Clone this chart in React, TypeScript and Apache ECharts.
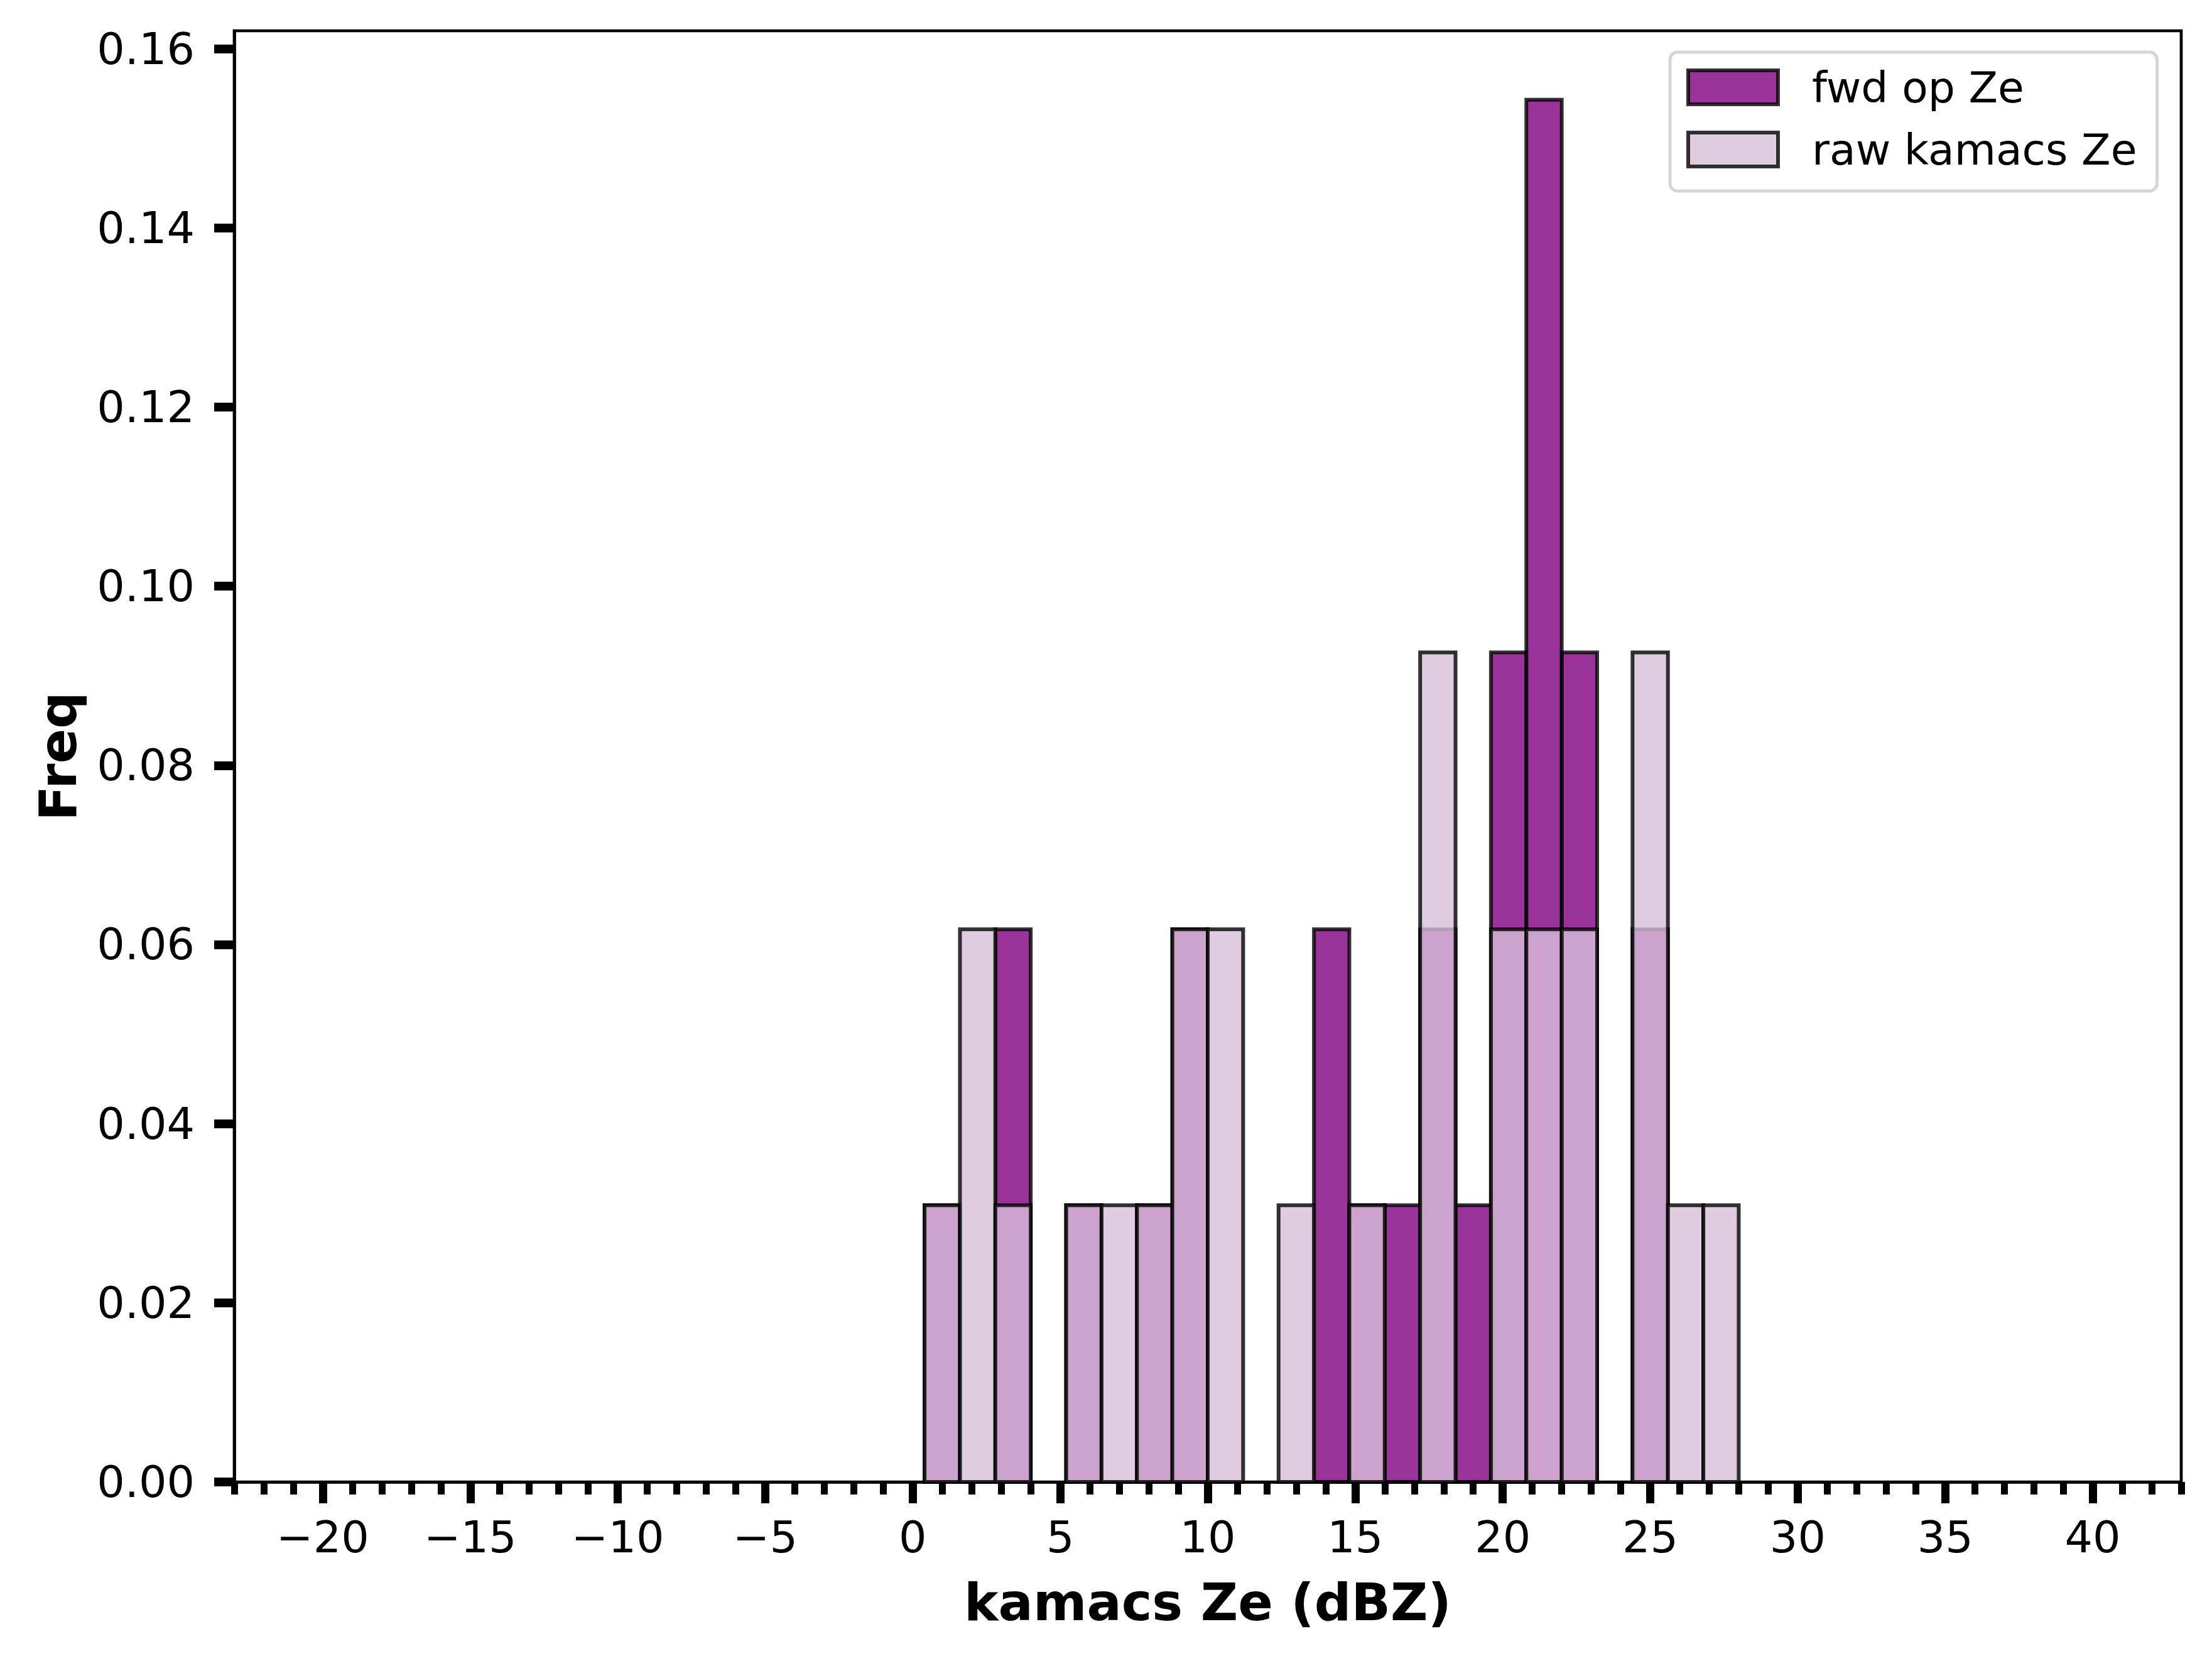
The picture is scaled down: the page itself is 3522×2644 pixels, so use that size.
import React, { useEffect, useRef } from "react";
import * as echarts from "echarts";

// Histogram bins (left edges), width 1.2 dBZ
const BIN_LEFT = [0.4, 1.6, 2.8, 4.0, 5.2, 6.4, 7.6, 8.8, 10.0, 11.2, 12.4, 13.6, 14.8, 16.0, 17.2, 18.4, 19.6, 20.8, 22.0, 23.2, 24.4, 25.6, 26.8];
const BIN_WIDTH = 1.2;
const FWD_FREQ = [0.0309, 0, 0.0617, 0, 0.0309, 0, 0.0309, 0.0617, 0, 0, 0, 0.0617, 0.0309, 0.0309, 0.0617, 0.0309, 0.0926, 0.1543, 0.0926, 0, 0.0617, 0, 0];
const RAW_FREQ = [0.0309, 0.0617, 0.0309, 0, 0.0309, 0.0309, 0.0309, 0.0617, 0.0617, 0, 0.0309, 0, 0.0309, 0, 0.0926, 0, 0.0617, 0.0617, 0.0617, 0, 0.0926, 0.0309, 0.0309];

const SERIES_NAMES = ["fwd op Ze", "raw kamacs Ze"];
const X_MAJOR_TICKS = [-20, -15, -10, -5, 0, 5, 10, 15, 20, 25, 30, 35, 40];
const Y_TICKS = [0, 0.02, 0.04, 0.06, 0.08, 0.1, 0.12, 0.14, 0.16];
const X_MIN = -23;
const X_MAX = 43;
const Y_MAX = 0.162;

const FONT = "DejaVu Sans";
const FWD_COLOR = "rgba(128,0,128,0.8)";
const RAW_COLOR = "rgba(216,191,216,0.8)";
const EDGE_COLOR = "rgba(0,0,0,0.8)";
const EDGE_WIDTH = 6;

function makeRender(fill: string) {
  return (params: any, api: any) => {
    const x0 = api.value(0);
    const x1 = api.value(1);
    const y = api.value(2);
    if (!y) return { type: "group", children: [] };
    const p0 = api.coord([x0, y]);
    const p1 = api.coord([x1, 0]);
    return {
      type: "rect",
      shape: { x: p0[0], y: p0[1], width: p1[0] - p0[0], height: p1[1] - p0[1] },
      style: { fill, stroke: EDGE_COLOR, lineWidth: EDGE_WIDTH },
    };
  };
}

const fmtX = (v: number) => (v < 0 ? "\u2212" + Math.abs(v) : String(v));

export default function App() {
  const ref = useRef<HTMLDivElement>(null);
  useEffect(() => {
    if (!ref.current) return;
    const chart = echarts.init(ref.current, null, { renderer: "svg" });
    const fwdData = BIN_LEFT.map((l, i) => [l, +(l + BIN_WIDTH).toFixed(1), FWD_FREQ[i]]);
    const rawData = BIN_LEFT.map((l, i) => [l, +(l + BIN_WIDTH).toFixed(1), RAW_FREQ[i]]);
    chart.setOption({
      animation: false,
      backgroundColor: "#ffffff",
      grid: {
        left: 373,
        right: 49,
        top: 49,
        bottom: 285,
        show: true,
        borderColor: "#000",
        borderWidth: 4.7,
        backgroundColor: "transparent",
      },
      legend: {
        orient: "vertical",
        left: 2659,
        top: 83,
        padding: [22, 32, 32, 26],
        itemWidth: 143,
        itemHeight: 54,
        itemGap: 31,
        selectedMode: false,
        backgroundColor: "#ffffff",
        borderColor: "#d6d6d6",
        borderWidth: 5,
        borderRadius: 12,
        textStyle: { fontFamily: FONT, fontSize: 68, color: "#000", lineHeight: 54, padding: [0, 0, 0, 49] },
        data: [
          { name: SERIES_NAMES[0], icon: "rect", itemStyle: { color: FWD_COLOR, borderColor: EDGE_COLOR, borderWidth: EDGE_WIDTH } },
          { name: SERIES_NAMES[1], icon: "rect", itemStyle: { color: RAW_COLOR, borderColor: EDGE_COLOR, borderWidth: EDGE_WIDTH } },
        ],
      },
      xAxis: [
        {
          type: "value",
          min: X_MIN,
          max: X_MAX,
          position: "bottom",
          name: "kamacs Ze (dBZ)",
          nameLocation: "middle",
          nameGap: 150,
          nameTextStyle: { fontFamily: FONT, fontSize: 82, fontWeight: "bold", color: "#000" },
          axisLine: { show: true, onZero: false, lineStyle: { color: "#000", width: 4.7 } },
          axisTick: { show: true, length: 34, lineStyle: { color: "#000", width: 13 }, customValues: X_MAJOR_TICKS },
          axisLabel: { show: true, fontFamily: FONT, fontSize: 70, color: "#000", margin: 53, formatter: fmtX, customValues: X_MAJOR_TICKS },
          splitLine: { show: false },
        },
        {
          type: "value",
          min: X_MIN,
          max: X_MAX,
          interval: 1,
          position: "bottom",
          axisLine: { show: false, onZero: false },
          axisTick: { show: true, length: 20, lineStyle: { color: "#000", width: 11 } },
          axisLabel: { show: false },
          splitLine: { show: false },
        },
      ],
      yAxis: {
        type: "value",
        min: 0,
        max: Y_MAX,
        position: "left",
        name: "Freq",
        nameLocation: "middle",
        nameGap: 240,
        nameRotate: 90,
        nameTextStyle: { fontFamily: FONT, fontSize: 82, fontWeight: "bold", color: "#000" },
        axisLine: { show: true, onZero: false, lineStyle: { color: "#000", width: 4.7 } },
        axisTick: { show: true, length: 32, lineStyle: { color: "#000", width: 14 }, customValues: Y_TICKS },
        axisLabel: { show: true, fontFamily: FONT, fontSize: 70, color: "#000", margin: 63, formatter: (v: number) => v.toFixed(2), customValues: Y_TICKS },
        splitLine: { show: false },
      },
      series: [
        {
          name: SERIES_NAMES[0],
          type: "custom",
          xAxisIndex: 0,
          yAxisIndex: 0,
          itemStyle: { color: FWD_COLOR },
          encode: { x: [0, 1], y: 2 },
          renderItem: makeRender(FWD_COLOR),
          data: fwdData,
        },
        {
          name: SERIES_NAMES[1],
          type: "custom",
          xAxisIndex: 0,
          yAxisIndex: 0,
          itemStyle: { color: RAW_COLOR },
          encode: { x: [0, 1], y: 2 },
          renderItem: makeRender(RAW_COLOR),
          data: rawData,
        },
      ],
    });
    return () => chart.dispose();
  }, []);
  return (
    <div
      ref={ref}
      style={{ position: "fixed", left: 0, top: 0, width: "3522px", height: "2644px", background: "#fff" }}
    />
  );
}
